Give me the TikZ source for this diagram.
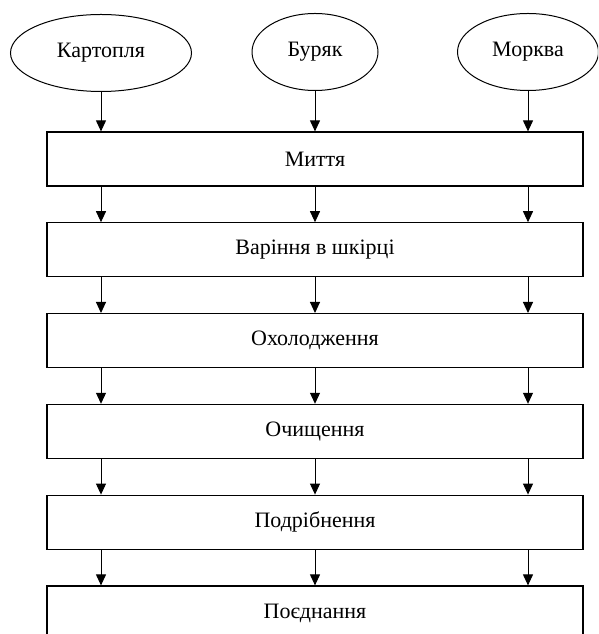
\documentclass[tikz,border=0pt]{standalone}
\usepackage{fontspec}
\setmainfont{Liberation Serif}
\usetikzlibrary{shapes.geometric,arrows.meta}

\begin{document}
\begin{tikzpicture}[x=1pt,y=1pt,font=\fontsize{22}{26}\selectfont,
        veg/.style={draw,ellipse,line width=1pt,inner sep=0pt,minimum height=77pt},
        stage/.style={draw,rectangle,line width=1.2pt,minimum width=536pt,minimum height=54pt,inner sep=0pt},
        flow/.style={-{Triangle[width=10pt,length=11pt]},line width=1pt}]
        \useasboundingbox (0,0) rectangle (598,634);
        \clip (0,0) rectangle (598,634);

        \node[veg,minimum width=181pt] (kart) at (101,581) {Картопля};
        \node[veg,minimum width=126pt] (buryak) at (315,582) {Буряк};
        \node[veg,minimum width=141pt] (morkva) at (528,582) {Морква};

        \node[stage] (s1) at (315,475) {Миття};
        \node[stage] (s2) at (315,384.2) {Варіння в шкірці};
        \node[stage] (s3) at (315,293.4) {Охолодження};
        \node[stage] (s4) at (315,202.6) {Очищення};
        \node[stage] (s5) at (315,111.8) {Подрібнення};
        \node[stage] (s6) at (315,21) {Поєднання};

        \foreach \v in {kart,buryak,morkva}
            \draw[flow] (\v.south) -- (\v.south |- s1.north);

        \foreach \a/\b in {s1/s2,s2/s3,s3/s4,s4/s5,s5/s6}
            \foreach \v in {kart,buryak,morkva}
                \draw[flow] (\a.south -| \v) -- (\b.north -| \v);
    \end{tikzpicture}
\end{document}
